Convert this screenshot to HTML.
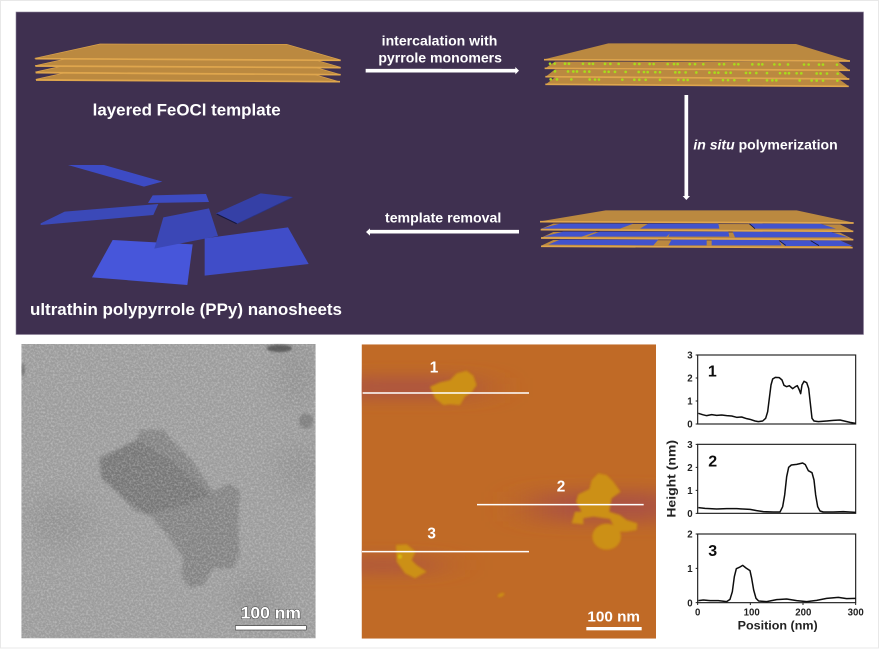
<!DOCTYPE html>
<html><head><meta charset="utf-8">
<style>
html,body{margin:0;padding:0;background:#fff;width:880px;height:649px;overflow:hidden}
svg{display:block}
text{font-family:"Liberation Sans",sans-serif;font-weight:bold;fill:#fff}
</style></head><body>
<svg width="880" height="649" viewBox="0 0 880 649" xmlns="http://www.w3.org/2000/svg">
<defs>
<filter id="b1" x="-5%" y="-5%" width="110%" height="110%"><feGaussianBlur stdDeviation="0.9"/></filter>
<filter id="bt" x="-5%" y="-30%" width="110%" height="160%"><feGaussianBlur stdDeviation="0.7"/></filter>
<filter id="b2" x="-20%" y="-20%" width="140%" height="140%"><feGaussianBlur stdDeviation="5"/></filter>
<filter id="b5" x="-20%" y="-20%" width="140%" height="140%"><feGaussianBlur stdDeviation="3"/></filter>
<filter id="b3" x="-60%" y="-200%" width="220%" height="500%"><feGaussianBlur stdDeviation="70 24"/></filter>
<filter id="b4" x="-50%" y="-50%" width="200%" height="200%"><feGaussianBlur stdDeviation="30"/></filter>
<filter id="noise" x="0" y="0" width="100%" height="100%">
<feTurbulence type="fractalNoise" baseFrequency="0.17" numOctaves="2" seed="7"/>
<feColorMatrix type="matrix" values="0 0 0 0 1  0 0 0 0 1  0 0 0 0 1  2.2 0 0 0 -0.85"/>
<feGaussianBlur stdDeviation="1"/>
</filter>
<clipPath id="tem"><rect x="64" y="27" width="883" height="883"/></clipPath>
<clipPath id="afm"><rect x="35" y="28" width="883" height="883"/></clipPath>
</defs>
<rect x="0.5" y="0.5" width="878" height="647.5" fill="#fff" stroke="#e8e8e8"/>
<rect x="16" y="12" width="847.5" height="322.5" fill="#3f3050" stroke="#8d8399" stroke-width="0.6"/>

<!-- left part of scheme -->
<g transform="scale(0.33333)">
<g filter="url(#b1)">
<g fill="#bb893f" stroke="#dca34c" stroke-width="2">
<polygon points="300,195 860,199 1020,246 107,238"/>
<polygon points="300,173 860,177 1022,224 106,216"/>
<polygon points="300,154 860,155 1022,202 105,197"/>
<polygon points="300,132 860,133 1022,180 104,175"/>
</g>
<g stroke="#dfa64e" stroke-width="5" fill="none">
<path d="M106,176 L1022,181 M106,198 L1022,203 M107,218 L1022,224 M108,240 L1020,245"/>
</g>
<polygon points="204,495 312,495 487,545 432,560" fill="#3c4cc4"/>
<polygon points="458,586 618,582 627,606 444,609" fill="#3d4cc2"/>
<polygon points="122,670 194,635 475,612 460,645 122,675" fill="#3a48b8"/>
<polygon points="648,640 782,580 878,591 712,671" fill="#3440a6"/>
<path d="M648,641 L712,671 L878,592" fill="none" stroke="#2a3488" stroke-width="2"/>
<path d="M650,642 L710,671" stroke="#15183c" stroke-width="3"/>
<polygon points="338,720 578,733 562,855 276,832" fill="#4656da"/>
<polygon points="490,652 627,625 654,708 463,746" fill="#3a47b6"/>
<polygon points="614,715 864,682 926,792 614,827" fill="#3f4ec8"/>
<path d="M1097,212 L1325,212" stroke="#fff" stroke-width="11"/>
<path d="M1320,695 L1110,695" stroke="#fff" stroke-width="11"/>
<polygon points="1110,685 1110,707 1098,696" fill="#fff"/>
</g>
<g filter="url(#bt)">
<text x="278" y="347" font-size="50" textLength="564" lengthAdjust="spacingAndGlyphs">layered FeOCl template</text>
<text x="90" y="945" font-size="50" textLength="936" lengthAdjust="spacingAndGlyphs">ultrathin polypyrrole (PPy) nanosheets</text>
<text x="1145" y="136" font-size="41" textLength="347" lengthAdjust="spacingAndGlyphs">intercalation with</text>
<text x="1135" y="187" font-size="41" textLength="371" lengthAdjust="spacingAndGlyphs">pyrrole monomers</text>
<text x="1155" y="668" font-size="41" textLength="349" lengthAdjust="spacingAndGlyphs">template removal</text>
</g>
</g>

<!-- right part of scheme -->
<g transform="translate(440,0) scale(0.33333)">
<g filter="url(#b1)">
<path d="M-120,212 L228,212" stroke="#fff" stroke-width="11"/>
<polygon points="226,201 226,223 237,212" fill="#fff"/>
<path d="M739,285 L739,590" stroke="#fff" stroke-width="11"/>
<polygon points="728,588 750,588 739,600" fill="#fff"/>
<path d="M-120,695 L237,695" stroke="#fff" stroke-width="11"/>
<g fill="#bb893f">
<polygon points="345,232 1195,236 1228,260 316,254"/>
<polygon points="345,208 1195,212 1228,238 316,231"/>
<polygon points="345,185 1195,185 1230,212 314,206"/>
<polygon points="505,130 1068,132 1230,182 312,178"/>
</g>
<g fill="none" stroke="#dfa64e" stroke-width="5">
<path d="M312,179 L1230,183 M314,205 L1230,211 M316,230 L1228,237 M316,253 L1226,259"/>
</g>
<g fill="none" stroke="#a8dc1c" stroke-linecap="round" stroke-width="8">
<path d="M330,191 L1205,194" stroke-dasharray="0 14 0 31 0 12 0 42 0 19 0 11 0 36 0 16 0 25 0 48"/>
<path d="M345,214 L1200,221" stroke-dasharray="0 39 0 16 0 11 0 23 0 14 0 46 0 12 0 19 0 32"/>
<path d="M332,238 L1192,242" stroke-dasharray="0 19 0 43 0 55 0 16 0 12 0 70 0 36 0 15"/>
</g>
<g fill="#bb893f">
<polygon points="340,720 1200,722 1238,742 304,737"/>
<polygon points="340,696 1200,698 1240,718 304,713"/>
<polygon points="340,671 1200,673 1240,693 302,687"/>
</g>
<g fill="#4252cc">
<polygon points="303,686 360,671 580,671 540,686"/>
<polygon points="600,686 625,671 835,671 838,686"/>
<polygon points="925,671 1140,671 1188,686 945,686"/>
<polygon points="310,710 370,695 470,695 425,710"/>
<polygon points="440,710 480,695 695,695 680,710"/>
<polygon points="685,710 692,695 865,695 868,710"/>
<polygon points="878,695 1170,695 1225,712 885,712"/>
<polygon points="325,734 360,719 655,719 640,736"/>
<polygon points="685,736 695,719 800,719 800,736"/>
<polygon points="815,719 1015,719 1025,736 815,736"/>
<polygon points="1015,721 1110,721 1135,738 1035,738"/>
<polygon points="1110,721 1200,721 1238,738 1135,738"/>
</g>
<path d="M928,671 L945,686 M1018,722 L1037,736 M1112,722 L1137,737" stroke="#14163a" stroke-width="2.5"/>
<polygon points="497,631 1070,631 1241,668 300,664" fill="#bb893f"/>
<g fill="none" stroke="#dfa64e" stroke-width="5">
<path d="M300,665 L1241,669 M302,689 L1240,694 M303,714 L1240,719 M303,739 L1238,743"/>
</g>
</g>
<text filter="url(#bt)" x="760" y="449" font-size="41" textLength="433" lengthAdjust="spacingAndGlyphs"><tspan font-style="italic">in situ</tspan> polymerization</text>
</g>

<!-- TEM -->
<g transform="translate(0,335) scale(0.33333)">
<g clip-path="url(#tem)">
<rect x="64" y="27" width="883" height="883" fill="#9c9c9c"/>
<g filter="url(#b4)" fill="#7a7a7a" opacity=".25">
<ellipse cx="890" cy="120" rx="60" ry="90"/>
<ellipse cx="900" cy="400" rx="60" ry="70"/>
<ellipse cx="760" cy="790" rx="70" ry="60"/>
<ellipse cx="180" cy="560" rx="90" ry="70"/>
</g>
<g filter="url(#b2)">
<path d="M298,370 L350,345 L410,315 L420,285 L490,285 L520,320 L575,375 L640,470 L690,445 L720,470 L715,560 L718,660 L700,700 L640,700 L610,750 L570,758 L545,725 L550,670 L510,610 L450,540 L400,525 L350,470 L305,430 Z" fill="#838383"/>
<path d="M298,370 L350,345 L410,315 L520,380 L630,480 L560,510 L440,540 L350,470 L305,430 Z" fill="#777"/>
</g>
<rect x="64" y="27" width="883" height="883" filter="url(#noise)" opacity=".3"/>
<g filter="url(#b5)" fill="#444">
<ellipse cx="838" cy="40" rx="38" ry="11" opacity=".7"/>
<ellipse cx="918" cy="258" rx="22" ry="22" opacity=".3"/>
<ellipse cx="70" cy="105" rx="4" ry="20" opacity=".5"/>
</g>
</g>
<rect x="706" y="872" width="213" height="13" fill="#fff" stroke="#444" stroke-width="2"/>
<text x="722" y="850" font-size="50" textLength="181" lengthAdjust="spacingAndGlyphs" stroke="#444" stroke-width="3" paint-order="stroke">100 nm</text>
</g>

<!-- AFM -->
<g transform="translate(350,335) scale(0.33333)">
<g clip-path="url(#afm)">
<rect x="35" y="28" width="883" height="883" fill="#c06a26"/>
<g fill="#ac5242">
<rect x="-60" y="128" width="440" height="60" filter="url(#b3)"/>
<rect x="560" y="470" width="440" height="90" filter="url(#b3)"/>
<rect x="-60" y="670" width="320" height="40" filter="url(#b3)"/>
</g>
<g fill="#cc9012" filter="url(#b5)">
<path d="M240,155 L270,142 300,135 320,115 350,107 370,122 380,150 365,172 345,185 330,210 300,208 280,210 255,190 Z"/>
<path d="M718,462 L725,435 745,415 770,420 790,440 812,470 785,490 778,530 810,540 830,555 862,565 860,585 830,590 800,590 780,552 730,545 700,550 700,568 665,565 675,530 695,530 678,500 685,478 Z"/>
<ellipse cx="770" cy="605" rx="43" ry="39"/>
<path d="M138,630 L170,628 197,650 185,675 200,690 230,710 195,730 165,715 140,680 Z"/>
<ellipse cx="453" cy="780" rx="11" ry="5" transform="rotate(-25 453 780)"/>
</g>
<circle cx="150" cy="665" r="6" fill="#d8c010" filter="url(#b5)"/>
</g>
<path d="M38,174 L537,174 M381,509 L881,509 M36,650 L537,650" stroke="#fff" stroke-width="4.5"/>
<rect x="709" y="876" width="166" height="10" fill="#fff"/>
<text x="712" y="860" font-size="45" textLength="158" lengthAdjust="spacingAndGlyphs">100 nm</text>
<text x="252" y="112" font-size="46" text-anchor="middle">1</text>
<text x="633" y="470" font-size="46" text-anchor="middle">2</text>
<text x="245" y="610" font-size="46" text-anchor="middle">3</text>
</g>

<!-- charts -->
<g transform="translate(650,340) scale(0.33333)">
<g fill="#fff" stroke="#222" stroke-width="3.5">
<rect x="143" y="45" width="474" height="207"/>
<rect x="143" y="313" width="474" height="207"/>
<rect x="143" y="582" width="474" height="206"/>
</g>
<g fill="none" stroke="#111" stroke-width="4.5" stroke-linejoin="round" filter="url(#bt)">
<path d="M145,220 L158,224 170,227 185,224 200,226 215,225 230,227 245,228 260,232 275,231 290,236 300,238 315,243 325,245 338,243 347,235 353,215 358,175 363,135 368,117 376,112 388,113 396,120 402,136 410,140 418,137 428,146 436,140 442,137 448,150 452,161 456,135 462,124 470,128 476,145 481,190 486,235 492,243 505,245 530,243 550,241 570,240 600,247 617,250"/>
<path d="M145,503 L165,505 200,507 230,506 260,506 300,508 320,512 340,515 370,516 390,516 398,500 404,465 410,410 416,382 424,375 440,373 458,369 466,374 475,392 486,398 492,420 497,465 503,500 510,513 520,516 550,516 580,515 617,517"/>
<path d="M145,782 L160,780 180,782 205,782 230,785 240,778 247,755 253,710 259,686 268,682 278,676 288,684 300,692 305,715 311,750 318,775 326,783 350,785 380,779 410,777 440,782 470,785 500,781 530,775 565,772 590,776 617,775"/>
</g>
<path d="M137,45 H143 M137,114 H143 M137,183 H143 M137,252 H143 M137,313 H143 M137,382 H143 M137,451 H143 M137,520 H143 M137,582 H143 M137,685 H143 M137,788 H143 M143,788 V795 M301,788 V795 M459,788 V795 M617,788 V795" stroke="#222" stroke-width="3"/>
<g filter="url(#bt)">
<text x="120" y="56" font-size="29" text-anchor="middle" style="fill:#222">3</text>
<text x="120" y="125" font-size="29" text-anchor="middle" style="fill:#222">2</text>
<text x="120" y="194" font-size="29" text-anchor="middle" style="fill:#222">1</text>
<text x="120" y="263" font-size="29" text-anchor="middle" style="fill:#222">0</text>
<text x="120" y="324" font-size="29" text-anchor="middle" style="fill:#222">3</text>
<text x="120" y="393" font-size="29" text-anchor="middle" style="fill:#222">2</text>
<text x="120" y="462" font-size="29" text-anchor="middle" style="fill:#222">1</text>
<text x="120" y="531" font-size="29" text-anchor="middle" style="fill:#222">0</text>
<text x="120" y="593" font-size="29" text-anchor="middle" style="fill:#222">2</text>
<text x="120" y="696" font-size="29" text-anchor="middle" style="fill:#222">1</text>
<text x="120" y="799" font-size="29" text-anchor="middle" style="fill:#222">0</text>
<text x="143" y="826" font-size="29" text-anchor="middle" style="fill:#222">0</text>
<text x="305" y="826" font-size="29" text-anchor="middle" style="fill:#222">100</text>
<text x="460" y="826" font-size="29" text-anchor="middle" style="fill:#222">200</text>
<text x="617" y="826" font-size="29" text-anchor="middle" style="fill:#222">300</text>
<text x="263" y="868" font-size="36" textLength="240" lengthAdjust="spacingAndGlyphs" style="fill:#222">Position (nm)</text>
<text transform="translate(76,533) rotate(-90)" font-size="36" textLength="233" lengthAdjust="spacingAndGlyphs" style="fill:#222">Height (nm)</text>
<text x="187" y="110" font-size="48" text-anchor="middle" style="fill:#111">1</text>
<text x="188" y="380" font-size="48" text-anchor="middle" style="fill:#111">2</text>
<text x="188" y="648" font-size="48" text-anchor="middle" style="fill:#111">3</text>
</g>
</g>
</svg>
</body></html>
